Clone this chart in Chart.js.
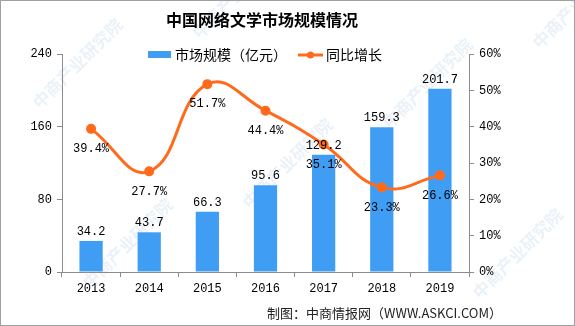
<!DOCTYPE html>
<html>
<head>
<meta charset="utf-8">
<script src="https://cdn.jsdelivr.net/npm/chart.js@4/dist/chart.umd.min.js"></script>
<style>
	html, body { margin: 0; padding: 0; background: #fff; }
	#wrap { width: 575px; height: 326px; position: relative; }
</style>
</head>
<body>
<div id="wrap"><canvas id="chart" width="575" height="326"></canvas></div>
<script>
// -------------------- Data -------------------- //
const years = ["2013", "2014", "2015", "2016", "2017", "2018", "2019"];
const marketSize = [34.2, 43.7, 66.3, 95.6, 129.2, 159.3, 201.7];   // 亿元
const growthRate = [39.4, 27.7, 51.7, 44.4, 35.1, 23.3, 26.6];      // %

const titleText = "中国网络文学市场规模情况";
const barLabel = "市场规模（亿元）";
const lineLabel = "同比增长";
const sourceText = "制图：中商情报网（WWW.ASKCI.COM）";

const barColor = "#3f9ef4";
const lineColor = "#ff6a1c";
const axisColor = "#8c8c8c";
const numFont = "'Liberation Mono', 'DejaVu Sans Mono', monospace";
const cjkFont = "'Noto Sans CJK SC', 'Noto Sans', sans-serif";

// -------------------- Plugins -------------------- //
/// draws the faint watermark, the frame, the title, the legend and the source line
const decorPlugin = {
	id: "decor",
	beforeDraw(chart) {
		const ctx = chart.ctx;
		ctx.save();
		ctx.fillStyle = "rgba(140, 180, 215, 0.18)";
		ctx.font = "bold 17px " + cjkFont;
		const spots = [[40, 110], [200, 40], [250, 210], [390, 130], [540, 50], [90, 290], [480, 300]];
		for (const [x, y] of spots) {
			ctx.save();
			ctx.translate(x, y);
			ctx.rotate(-Math.PI / 4);
			ctx.fillText("中商产业研究院", 0, 0);
			ctx.restore();
		}
		ctx.restore();
	},
	afterDraw(chart) {
		const ctx = chart.ctx;
		ctx.save();
		// frame
		ctx.strokeStyle = "#a0a0a0";
		ctx.lineWidth = 1;
		ctx.strokeRect(0.5, 0.5, 574, 325);

		// title
		ctx.fillStyle = "#000";
		ctx.font = "bold 16px " + cjkFont;
		ctx.textAlign = "center";
		ctx.textBaseline = "middle";
		ctx.fillText(titleText, 262, 20);

		// legend
		ctx.font = "14px " + cjkFont;
		ctx.textAlign = "left";
		ctx.fillStyle = barColor;
		ctx.fillRect(148, 51, 23, 7);
		ctx.fillStyle = "#000";
		ctx.fillText(barLabel, 175, 55);
		ctx.strokeStyle = lineColor;
		ctx.lineWidth = 3;
		ctx.beginPath();
		ctx.moveTo(298, 55);
		ctx.lineTo(323, 55);
		ctx.stroke();
		ctx.fillStyle = lineColor;
		ctx.beginPath();
		ctx.arc(310.5, 55, 3.5, 0, Math.PI * 2);
		ctx.fill();
		ctx.fillStyle = "#000";
		ctx.fillText(lineLabel, 326, 55);

		// source
		ctx.font = "13px " + cjkFont;
		ctx.textAlign = "right";
		ctx.fillStyle = "#222";
		ctx.fillText(sourceText, 502, 313);
		ctx.restore();
	}
};

/// value labels: above the bars, below the line points
const valueLabelPlugin = {
	id: "valueLabels",
	afterDatasetsDraw(chart) {
		const ctx = chart.ctx;
		ctx.save();
		ctx.font = "12px " + numFont;
		ctx.fillStyle = "#000";
		ctx.textAlign = "center";

		const barMeta = chart.getDatasetMeta(0);
		ctx.textBaseline = "bottom";
		barMeta.data.forEach((el, i) => {
			ctx.fillText(marketSize[i].toFixed(1), el.x, el.y - 3);
		});

		const lineMeta = chart.getDatasetMeta(1);
		ctx.textBaseline = "middle";
		lineMeta.data.forEach((el, i) => {
			ctx.fillText(growthRate[i].toFixed(1) + "%", el.x, el.y + 20);
		});
		ctx.restore();
	}
};

// -------------------- Chart -------------------- //
window.onload = () => { initChart(); }

function initChart() {
	const context = document.getElementById("chart");
	const tickFont = { family: numFont, size: 12 };

	new Chart(context, {
		data: {
			labels: years,
			datasets: [
				{
					type: "bar",
					label: barLabel,
					data: marketSize,
					backgroundColor: barColor,
					yAxisID: "y",
					barPercentage: 0.4,
					categoryPercentage: 1,
					order: 2
				},
				{
					type: "line",
					label: lineLabel,
					data: growthRate,
					borderColor: lineColor,
					backgroundColor: lineColor,
					borderWidth: 3,
					pointRadius: 3.5,
					pointHoverRadius: 3.5,
					tension: 0.45,
					yAxisID: "y1",
					order: 1
				}
			]
		},
		options: {
			responsive: false,
			animation: false,
			events: [],
			layout: { padding: { top: 54, left: 0, right: 0, bottom: 0 } },
			plugins: {
				legend: { display: false },
				title: { display: false },
				tooltip: { enabled: false }
			},
			scales: {
				x: {
					offset: true,
					grid: {
						offset: true,
						drawOnChartArea: false,
						color: axisColor,
						tickLength: 5
					},
					border: { color: axisColor },
					ticks: { color: "#000", font: tickFont, padding: 5 },
					afterFit: scale => { scale.height = 54; }
				},
				y: {
					position: "left",
					min: 0,
					max: 240,
					ticks: { stepSize: 80, color: "#000", font: tickFont, padding: 5 },
					grid: { drawOnChartArea: false, color: axisColor, tickLength: 5 },
					border: { color: axisColor },
					afterFit: scale => { scale.width = 62; }
				},
				y1: {
					position: "right",
					min: 0,
					max: 60,
					ticks: {
						stepSize: 10,
						color: "#000",
						font: tickFont,
						padding: 5,
						callback: v => v + "%"
					},
					grid: { drawOnChartArea: false, color: axisColor, tickLength: 5 },
					border: { color: axisColor },
					afterFit: scale => { scale.width = 106; }
				}
			}
		},
		plugins: [decorPlugin, valueLabelPlugin]
	});
}
</script>
</body>
</html>
